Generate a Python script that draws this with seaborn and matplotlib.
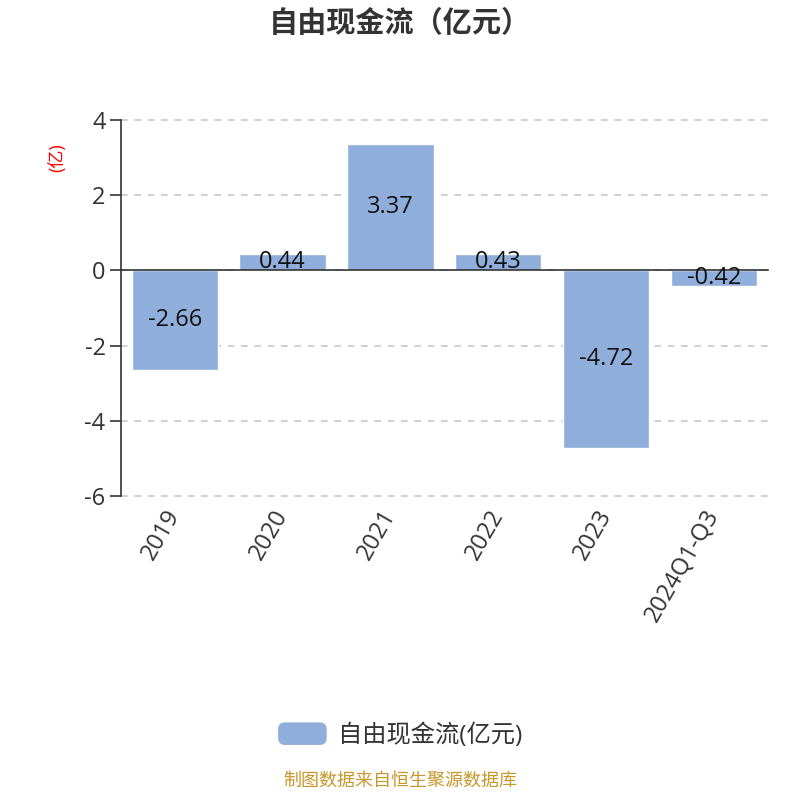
import matplotlib

matplotlib.use("Agg")
import matplotlib.pyplot as plt
import numpy as np
import pandas as pd
import seaborn as sns
from matplotlib.legend_handler import HandlerPatch
from matplotlib.patches import FancyBboxPatch

# %% data
years = ["2019", "2020", "2021", "2022", "2023", "2024Q1-Q3"]
fcf = [-2.66, 0.44, 3.37, 0.43, -4.72, -0.42]
y_ticks = [-6, -4, -2, 0, 2, 4]

df = pd.DataFrame({"year": years, "fcf": fcf})

bar_color = "#8FAEDB"
text_color = "#333333"

sns.set_style("white")
plt.rcParams["font.family"] = ["Open Sans", "Noto Sans CJK SC", "DejaVu Sans"]
plt.rcParams["axes.unicode_minus"] = False

fig = plt.figure(figsize=(8, 8), dpi=100)
ax = fig.add_axes([0.151, 0.38, 0.809, 0.47])

sns.barplot(data=df, x="year", y="fcf", color=bar_color, width=0.8, saturation=1,
            label="自由现金流(亿元)", ax=ax, zorder=3)
if ax.get_legend() is not None:
    ax.get_legend().remove()

ax.set_ylim(-6, 4)
ax.set_xlim(-0.5, len(years) - 0.5)
ax.set_yticks(y_ticks)
ax.set_yticklabels([str(t) for t in y_ticks])
ax.yaxis.grid(True, linestyle=(0, (4, 4)), color="#c8c8c8", linewidth=1.2, zorder=0)
for gl in ax.get_ygridlines():
    gl.set_clip_on(False)
ax.tick_params(axis="y", length=8, width=1.2, color=text_color, labelsize=17,
               labelcolor=text_color, left=True, pad=3)

# x-axis line at zero with ticks between categories
ax.spines["bottom"].set_position(("data", 0))
ax.spines["bottom"].set_color(text_color)
ax.spines["bottom"].set_linewidth(1.2)
ax.spines["bottom"].set_zorder(4)
ax.spines["left"].set_color(text_color)
ax.spines["left"].set_linewidth(1.2)
ax.spines["top"].set_visible(False)
ax.spines["right"].set_visible(False)
ax.set_xticks(np.arange(len(years)))
ax.tick_params(axis="x", which="major", length=0, labelbottom=False)
ax.set_xticks(np.arange(len(years) + 1) - 0.5, minor=True)
ax.tick_params(axis="x", which="minor", length=8, width=1.2, color=text_color, direction="out")

# category labels at the bottom of the plot area
sec = ax.secondary_xaxis("bottom")
sec.set_xticks(np.arange(len(years)))
sec.set_xticklabels(years, rotation=60, ha="right", va="center", rotation_mode="anchor",
                    fontsize=17, color=text_color)
sec.tick_params(length=0, pad=11)
sec.spines["bottom"].set_visible(False)

ax.set_xlabel("")
ax.set_ylabel("(亿)", color="red", fontsize=13)
ax.yaxis.set_label_coords(-0.085, 0.9)

# value labels inside bars
for container in ax.containers:
    ax.bar_label(container, labels=[f"{v:.2f}" for v in fcf], label_type="center",
                 fontsize=17, color="#111111", zorder=5)

fig.suptitle("自由现金流（亿元）", x=0.5, y=0.987, fontsize=21, fontweight="bold", color=text_color)


class RoundHandler(HandlerPatch):
    def create_artists(self, legend, orig_handle, xdescent, ydescent, width, height, fontsize, trans):
        p = FancyBboxPatch((-xdescent, -ydescent), width, height,
                           boxstyle="round,pad=0,rounding_size=5",
                           facecolor=bar_color, edgecolor="none", transform=trans)
        return [p]


handles, labels = ax.get_legend_handles_labels()
fig.legend(handles[:1], labels[:1], loc="center", bbox_to_anchor=(0.5, 0.081), frameon=False,
           fontsize=17.5, handlelength=2.0, handleheight=1.05, handletextpad=0.45,
           labelcolor=text_color, handler_map={type(handles[0]): RoundHandler()})

fig.text(0.5, 0.0125, "制图数据来自恒生聚源数据库", ha="center", va="bottom", fontsize=13, color="#C8962A")

fig.savefig("out.png", dpi=100)
